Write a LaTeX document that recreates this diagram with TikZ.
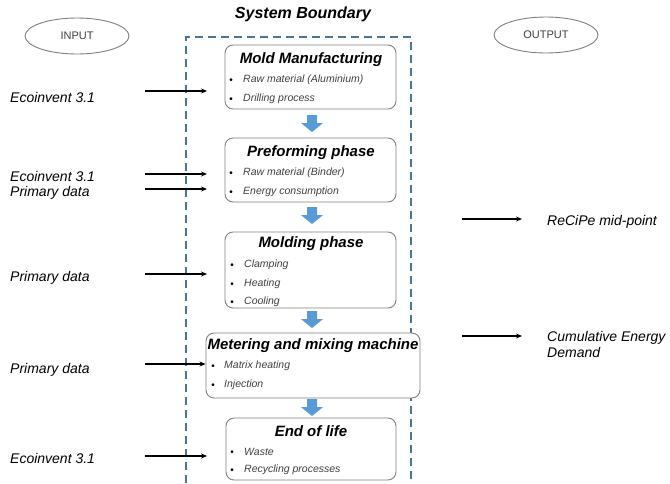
\documentclass[tikz,border=0pt]{standalone}
\usepackage{fontspec}
\setmainfont{Liberation Sans}
\usetikzlibrary{arrows.meta,shapes.geometric}
\definecolor{boundc}{HTML}{4A7396}
\definecolor{barrowc}{HTML}{5B9BD5}
\definecolor{boxc}{HTML}{808080}
\definecolor{bulc}{HTML}{404040}
\tikzset{
  procbox/.style={draw=boxc, line width=0.9pt, rounded corners=8pt, fill=white, inner sep=0pt},
  ptitle/.style={font=\fontsize{15}{17}\selectfont\bfseries\itshape, inner sep=0pt},
  pitem/.style={font=\fontsize{10.5}{12}\selectfont\itshape, text=bulc, anchor=west, inner sep=0pt},
  pbul/.style={font=\fontsize{10}{12}\selectfont, text=black, inner sep=0pt},
  inlabel/.style={font=\fontsize{14}{16.5}\selectfont\itshape, anchor=west, inner sep=0pt},
  flow/.style={-{Stealth[length=6pt,width=5pt]}, line width=1.1pt},
  ioell/.style={draw=gray, line width=0.9pt, ellipse, minimum width=104pt, minimum height=36pt, font=\fontsize{11}{13}\selectfont, text=bulc},
  barrow/.style={fill=barrowc},
}
\newcommand{\blockdown}[2]{\fill[barrow] (#1-5,#2) -- (#1+5,#2) -- (#1+5,#2+8) -- (#1+11,#2+8) -- (#1,#2+17) -- (#1-11,#2+8) -- (#1-5,#2+8) -- cycle;}
\begin{document}
\begin{tikzpicture}[x=1pt,y=-1pt]
\useasboundingbox (0,0) rectangle (670,483);
\fill[white] (0,0) rectangle (670,483);

% Input / Output ellipses
\node[ioell] (inp) at (77,36) {INPUT};
\node[ioell] (outp) at (546,35) {OUTPUT};

% System boundary
\node[font=\fontsize{16}{18}\selectfont\bfseries\itshape, inner sep=0pt] (sbt) at (303,14) {System Boundary};
\draw[boundc, line width=1.4pt, dash pattern=on 8pt off 5pt] (186,483) -- (186,37) -- (411,37) -- (411,483);

% Boxes
\node[procbox, minimum width=171pt, minimum height=64pt] (b1) at (310.5,77) {};
\node[procbox, minimum width=171pt, minimum height=64pt] (b2) at (310.5,170) {};
\node[procbox, minimum width=171pt, minimum height=76pt] (b3) at (310.5,270) {};
\node[procbox, minimum width=214pt, minimum height=65pt] (b4) at (313,365.5) {};
\node[procbox, minimum width=170pt, minimum height=62pt] (b5) at (311,449) {};

% Box texts
\node[ptitle] (t1) at (311,60) {Mold Manufacturing};
\node[pbul] (u11) at (231,81) {\textbullet};
\node[pitem] (i11) at (243,80) {Raw material (Aluminium)};
\node[pbul] (u12) at (231,100) {\textbullet};
\node[pitem] (i12) at (243,99) {Drilling process};

\node[ptitle] (t2) at (311,153) {Preforming phase};
\node[pbul] (u21) at (231,174) {\textbullet};
\node[pitem] (i21) at (243,173) {Raw material (Binder)};
\node[pbul] (u22) at (231,193) {\textbullet};
\node[pitem] (i22) at (243,192) {Energy consumption};

\node[ptitle] (t3) at (311,244) {Molding phase};
\node[pbul] (u31) at (232,266) {\textbullet};
\node[pitem] (i31) at (244,265) {Clamping};
\node[pbul] (u32) at (232,285) {\textbullet};
\node[pitem] (i32) at (244,284) {Heating};
\node[pbul] (u33) at (232,303) {\textbullet};
\node[pitem] (i33) at (244,302) {Cooling};

\node[ptitle] (t4) at (313,346) {Metering and mixing machine};
\node[pbul] (u41) at (213,367) {\textbullet};
\node[pitem] (i41) at (224,366) {Matrix heating};
\node[pbul] (u42) at (213,386) {\textbullet};
\node[pitem] (i42) at (224,385) {Injection};

\node[ptitle] (t5) at (311,431) {End of life};
\node[pbul] (u51) at (232,453) {\textbullet};
\node[pitem] (i51) at (244,452) {Waste};
\node[pbul] (u52) at (232,471) {\textbullet};
\node[pitem] (i52) at (244,470) {Recycling processes};

% Blue block arrows between boxes
\blockdown{312}{115}
\blockdown{312}{207}
\blockdown{312}{311}
\blockdown{312}{399}

% Input labels
\node[inlabel] (l1) at (10,97) {Ecoinvent 3.1};
\node[inlabel] (l2) at (10,176) {Ecoinvent 3.1};
\node[inlabel] (l3) at (10,193) {Primary data};
\node[inlabel] (l4) at (10,278) {Primary data};
\node[inlabel] (l5) at (10,370) {Primary data};
\node[inlabel] (l6) at (10,458) {Ecoinvent 3.1};

% Input arrows
\coordinate (a1) at (145,91);
\coordinate (a2) at (145,174);
\coordinate (a3) at (145,189);
\coordinate (a4) at (145,274);
\coordinate (a5) at (145,364);
\coordinate (a6) at (145,456);
\draw[flow] (a1) -- (207,91);
\draw[flow] (a2) -- (207,174);
\draw[flow] (a3) -- (207,189);
\draw[flow] (a4) -- (207,274);
\draw[flow] (a5) -- (a5 -| b4.west);
\draw[flow] (a6) -- (207,456);

% Output arrows and labels
\coordinate (o1) at (462,219);
\coordinate (o2) at (462,336);
\node[inlabel] (r1) at (547,222) {ReCiPe mid-point};
\node[inlabel, align=left, anchor=north west] (r2) at (547,331) {Cumulative Energy\\Demand};
\draw[flow] (o1) -- (522,219);
\draw[flow] (o2) -- (522,336);
\end{tikzpicture}
\end{document}
